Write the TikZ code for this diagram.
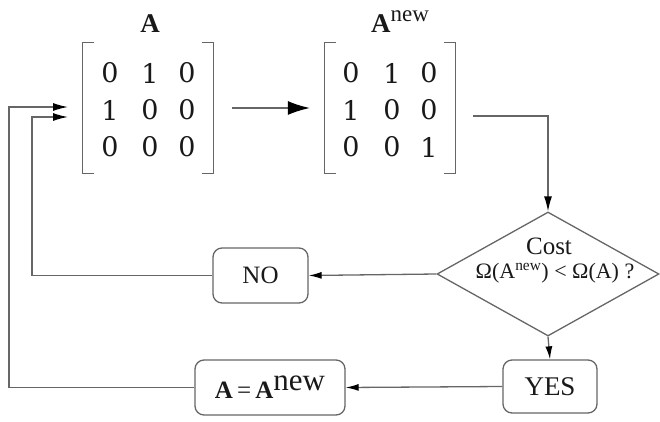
\documentclass[tikz,border=0pt]{standalone}
\usepackage{fontspec}
\setmainfont{Liberation Serif}
\newfontfamily\digitfont{DejaVu Serif}
\usetikzlibrary{shapes.geometric,arrows.meta}

\tikzset{
  wire/.style={draw=black!60, line width=1.3pt},
  bigarrow/.style={wire, -{Latex[length=22pt,width=14pt,color=black]}},
  midarrow/.style={wire, -{Latex[length=15pt,width=8pt,color=black]}},
  smallarrow/.style={wire, -{Latex[length=13pt,width=7pt,color=black]}},
  bracket/.style={draw=black!60, line width=1.3pt},
  entry/.style={font=\digitfont\fontsize{27}{27}\selectfont, text=black!90, inner sep=0pt},
  matlabel/.style={font=\fontsize{27}{27}\selectfont\bfseries, text=black!90, inner sep=0pt},
  stepbox/.style={draw=black!60, line width=1.3pt, rounded corners=9pt, text=black!90,
                  font=\fontsize{25}{25}\selectfont, inner sep=0pt},
  testshape/.style={diamond, draw=black!60, line width=1.3pt, inner sep=0pt}
}

\begin{document}
\begin{tikzpicture}[x=1pt,y=-1pt]
\useasboundingbox (0,0) rectangle (660,422);

% matrix frames
\node (mA) [minimum width=130pt, minimum height=130pt, inner sep=0pt] at (148,108) {};
\node (mN) [minimum width=130pt, minimum height=130pt, inner sep=0pt] at (390,108) {};
\foreach \m in {mA,mN}{
  \draw[bracket] ([xshift=11pt]\m.north west) -- (\m.north west) -- (\m.south west) -- ([xshift=11pt]\m.south west);
  \draw[bracket] ([xshift=-11pt]\m.north east) -- (\m.north east) -- (\m.south east) -- ([xshift=-11pt]\m.south east);
}

% entries of A
\node[entry] (a11) at (110,73) {0};
\node[entry] (a12) at (150,73) {1};
\node[entry] (a13) at (187,73) {0};
\node[entry] (a21) at (110,110) {1};
\node[entry] (a22) at (150,110) {0};
\node[entry] (a23) at (187,110) {0};
\node[entry] (a31) at (110,147) {0};
\node[entry] (a32) at (150,147) {0};
\node[entry] (a33) at (187,147) {0};

% entries of A^new
\node[entry] (n11) at (351,73) {0};
\node[entry] (n12) at (392,73) {1};
\node[entry] (n13) at (429,73) {0};
\node[entry] (n21) at (351,110) {1};
\node[entry] (n22) at (392,110) {0};
\node[entry] (n23) at (429,110) {0};
\node[entry] (n31) at (351,147) {0};
\node[entry] (n32) at (392,147) {0};
\node[entry] (n33) at (429,147) {1};

% matrix names
\node[matlabel, anchor=base] (labA) at (150,33) {A};
\node[matlabel, anchor=base west] (labN) at (371,33) {A\raisebox{11pt}{\fontsize{23}{23}\mdseries new}};

% decision
\node[testshape, minimum width=222pt, minimum height=124pt] (cost) at (548,274) {};
\node[text=black!90, inner sep=0pt, font=\fontsize{25}{25}\selectfont] (costlbl) at (549,246) {Cost};
\node[text=black!90, inner sep=0pt, font=\fontsize{22}{22}\selectfont] (costrel) at (555,273)
  {Ω(A\textsuperscript{new}) < Ω(A) ?};

% outcome boxes
\node[stepbox, minimum width=95pt, minimum height=55pt] (no) at (260.5,275.5) {NO};
\node[stepbox, minimum width=94pt, minimum height=53pt, font=\fontsize{27}{27}\selectfont] (yes) at (550,386.5) {YES};
\node[stepbox, minimum width=150pt, minimum height=55pt] (upd) at (270,387.5)
  {\fontsize{25}{25}\selectfont\bfseries A\,{\mdseries =}\,A\raisebox{8pt}{\fontsize{31}{31}\selectfont\mdseries new}};

% connectors
\coordinate (inA1) at (68,117);
\coordinate (inA2) at (68,107);
\draw[bigarrow] ([xshift=19pt]mA.east) -- ([xshift=-15pt]mN.west);
\draw[midarrow] ([xshift=18pt,yshift=-8pt]mN.east) -| (cost.north);
\draw[smallarrow] (cost.west) -- (no.east);
\draw[smallarrow] (cost.south) -- (yes.north);
\draw[smallarrow] (yes.west) -- (upd.east);
\draw[midarrow] (no.west) -| ([xshift=-36pt]inA1) -- (inA1);
\draw[midarrow] (upd.west) -| ([xshift=-59pt]inA2) -- (inA2);
\end{tikzpicture}
\end{document}
